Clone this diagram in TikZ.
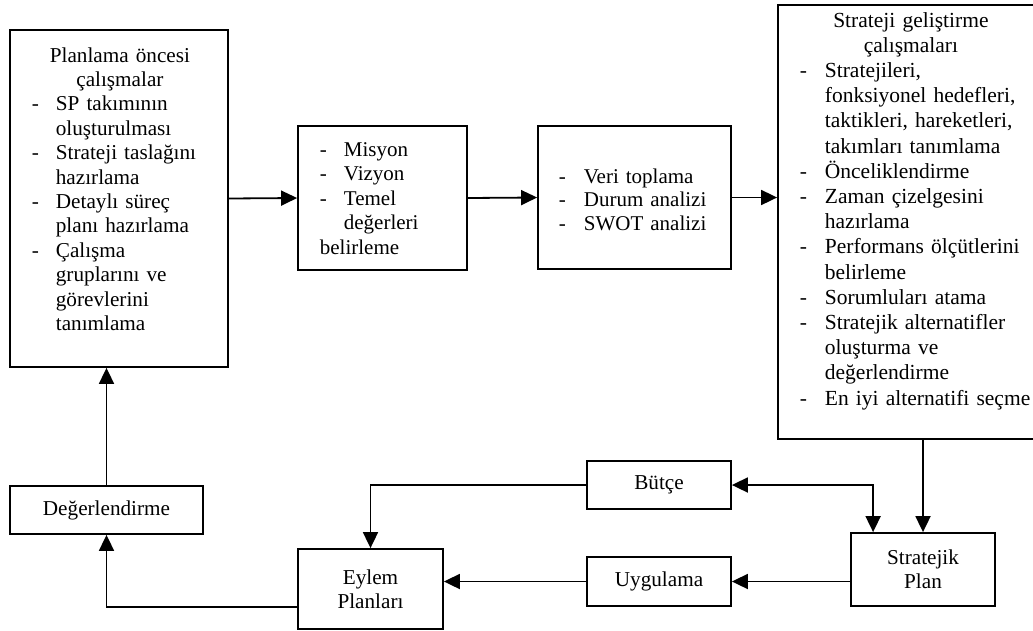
\documentclass[tikz,border=0pt]{standalone}
\usepackage{fontspec}
\setmainfont{Liberation Serif}
\usetikzlibrary{arrows.meta,calc}

% list helpers: a dashed item line, its continuation, a centred title line
\newlength\dashw
\setlength\dashw{24pt}
\newcommand\dl[1]{\makebox[\dashw][l]{-}\mbox{#1}}
\newcommand\cl[1]{\hspace*{\dashw}\mbox{#1}}
\newcommand\tl[1]{\makebox[\linewidth][c]{#1}}

\begin{document}
\begin{tikzpicture}[x=1pt,y=-1pt,
  line width=1.8pt,
  box/.style={draw=black,line width=1.8pt,rectangle,inner sep=0pt,
    font=\fontsize{21.2}{24.4}\selectfont,align=center},
  listtext/.style={anchor=base west,inner sep=0pt,align=left},
  arr/.style={-{Triangle[length=16pt,width=15pt]}},
  darr/.style={{Triangle[length=16pt,width=15pt]}-{Triangle[length=16pt,width=15pt]}}
]
\useasboundingbox (0,0) rectangle (1033,630);

% upper row of boxes
\node[box,minimum width=218pt,minimum height=337pt] (pre) at (119,198.5) {};
\node[box,minimum width=169pt,minimum height=144pt] (mis) at (382.5,198) {};
\node[box,minimum width=193pt,minimum height=143pt] (veri) at (634.5,197.5) {};
\node[box,minimum width=268pt,minimum height=434pt] (str) at (912,222) {};

% list texts inside the upper boxes
\node[listtext,text width=176pt,font=\fontsize{21.2}{24.4}\selectfont] (pretxt) at (31,62) {%
\tl{Planlama öncesi}\\
\tl{çalışmalar}\\
\dl{SP takımının}\\
\cl{oluşturulması}\\
\dl{Strateji taslağını}\\
\cl{hazırlama}\\
\dl{Detaylı süreç}\\
\cl{planı hazırlama}\\
\dl{Çalışma}\\
\cl{gruplarını ve}\\
\cl{görevlerini}\\
\cl{tanımlama}};

\node[listtext,text width=140pt,font=\fontsize{21}{24.5}\selectfont] (mistxt) at (319,156) {%
\dl{Misyon}\\
\dl{Vizyon}\\
\dl{Temel}\\
\cl{değerleri}\\
belirleme};

\node[listtext,text width=165pt,font={\fontsize{21}{23.5}\selectfont\setlength\dashw{25pt}}] (veritxt) at (558,183) {%
\dl{Veri toplama}\\
\dl{Durum analizi}\\
\dl{SWOT analizi}};

\node[listtext,text width=222pt,font={\fontsize{21.5}{25.2}\selectfont\setlength\dashw{25pt}}] (strtxt) at (799,27) {%
\tl{Strateji geliştirme}\\
\tl{çalışmaları}\\
\dl{Stratejileri,}\\
\cl{fonksiyonel hedefleri,}\\
\cl{taktikleri, hareketleri,}\\
\cl{takımları tanımlama}\\
\dl{Önceliklendirme}\\
\dl{Zaman çizelgesini}\\
\cl{hazırlama}\\
\dl{Performans ölçütlerini}\\
\cl{belirleme}\\
\dl{Sorumluları atama}\\
\dl{Stratejik alternatifler}\\
\cl{oluşturma ve}\\
\cl{değerlendirme}\\
\dl{En iyi alternatifi seçme}};

% lower boxes
\node[box,minimum width=193pt,minimum height=48pt] (deg) at (106.5,510) {Değerlendirme};
\node[box,minimum width=145pt,minimum height=80pt] (eylem) at (370.5,589) {Eylem\\Planları};
\node[box,minimum width=144pt,minimum height=48pt] (butce) at (659,485) {Bütçe};
\node[box,minimum width=144pt,minimum height=49pt] (uyg) at (659,581.5) {Uygulama};
\node[box,minimum width=144pt,minimum height=73pt] (sp) at (923,569.5) {Stratejik\\Plan};

\coordinate (spin) at ($(sp.north west)+(23,0)$);

% connectors
\draw[arr] (pre.east) -- (mis.west);
\draw[arr] (mis.east) -- (veri.west);
\draw[arr] (veri.east) -- (veri.east -| str.west);
\draw[arr] (sp.north |- str.south) -- (sp.north);
\draw[darr] (butce.east) -| (spin);
\draw[arr] (butce.west) -| (eylem.north);
\draw[arr] (uyg.east -| sp.west) -- (uyg.east);
\draw[arr] (uyg.west) -- (uyg.west -| eylem.east);
\draw[arr] ([yshift=-18pt]eylem.west) -| (deg.south);
\draw[arr] (deg.north) -- (deg.north |- pre.south);
\end{tikzpicture}
\end{document}
